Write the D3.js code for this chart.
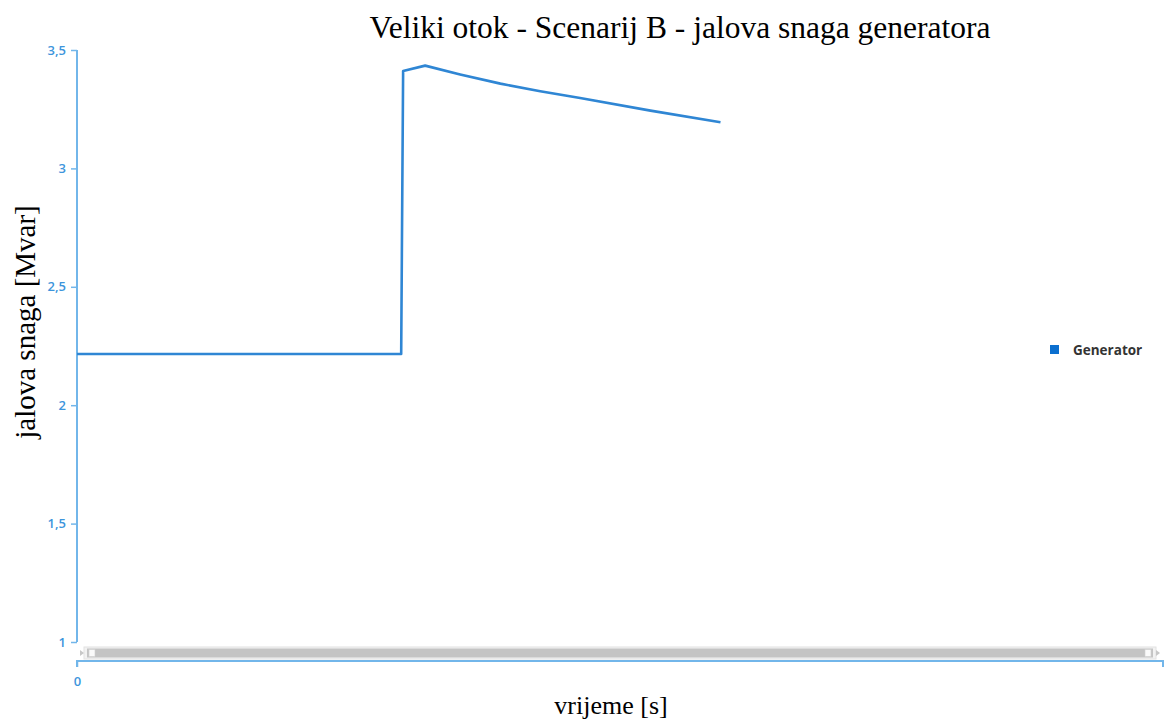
<!DOCTYPE html>
<html>
<head>
<meta charset="utf-8">
<script src="https://cdn.jsdelivr.net/npm/d3@7"></script>
<style>
  html, body { margin: 0; padding: 0; background: #fff; }
  svg { display: block; }
</style>
</head>
<body>
<svg id="chart" width="1164" height="720"></svg>
<script>
// Generator reactive power over time (Scenario B)
const timeSec = [0, 10, 10.06, 10.74, 11.82, 13.06, 14.29, 15.52, 17.69, 19.85];
const reactiveMvar = [2.216, 2.216, 3.411, 3.434, 3.397, 3.358, 3.326, 3.297, 3.244, 3.195];
const yTicks = [1, 1.5, 2, 2.5, 3, 3.5];
const xTicks = [0];
const seriesNames = ["Generator"];

const svg = d3.select("#chart");
const axisColor = "#72b6ea";
const tickTextColor = "#3d95dc";
const lineColor = "#2f86d4";

const x = d3.scaleLinear().domain([0, 33.5]).range([77, 1163]);
const y = d3.scaleLinear().domain([1, 3.5]).range([642, 50]);
const fmt = v => d3.format("~g")(v).replace(".", ",");

// Title
svg.append("text")
  .attr("x", 680).attr("y", 38)
  .attr("text-anchor", "middle")
  .style("font-family", "'Liberation Serif', 'Times New Roman', serif")
  .style("font-size", "31.5px")
  .attr("fill", "#000")
  .text("Veliki otok - Scenarij B - jalova snaga generatora");

// Y axis
const yAxis = d3.axisLeft(y).tickValues(yTicks).tickFormat(fmt).tickSize(6).tickPadding(5);
const gy = svg.append("g").attr("transform", "translate(77,0)").call(yAxis);
gy.select(".domain").attr("stroke", axisColor).attr("stroke-width", 2).attr("d", "M0,50V642");
gy.selectAll(".tick line").attr("stroke", axisColor).attr("stroke-width", 1.5);
gy.selectAll(".tick text")
  .attr("fill", tickTextColor)
  .style("font-family", "'Open Sans', 'Noto Sans', sans-serif")
  .style("font-size", "13px")
  .style("font-weight", "600");

svg.append("text")
  .attr("transform", "translate(35,322) rotate(-90)")
  .attr("text-anchor", "middle")
  .style("font-family", "'Liberation Serif', 'Times New Roman', serif")
  .style("font-size", "29px")
  .attr("fill", "#000")
  .text("jalova snaga [Mvar]");

// Scrollbar under the plot
const sb = svg.append("g");
sb.append("rect").attr("x", 84).attr("y", 647).attr("width", 1072).attr("height", 12)
  .attr("fill", "#f2f2f2").attr("stroke", "#e2e2e2");
sb.append("rect").attr("x", 87).attr("y", 648.5).attr("width", 1066).attr("height", 9)
  .attr("fill", "#c4c4c4");
sb.append("rect").attr("x", 89).attr("y", 649.5).attr("width", 6).attr("height", 7)
  .attr("fill", "#fafafa").attr("stroke", "#d0d0d0").attr("stroke-width", 0.6);
sb.append("rect").attr("x", 1145).attr("y", 649.5).attr("width", 6).attr("height", 7)
  .attr("fill", "#fafafa").attr("stroke", "#d0d0d0").attr("stroke-width", 0.6);
sb.append("path").attr("d", "M84,653 L80,650 L80,656 Z").attr("fill", "#c8c8c8");
sb.append("path").attr("d", "M1156,650 L1160,653 L1156,656 Z").attr("fill", "#c8c8c8");

// X axis
const xAxis = d3.axisBottom(x).tickValues(xTicks).tickFormat(d => d).tickSize(6).tickPadding(10);
const gx = svg.append("g").attr("transform", "translate(0,661)").call(xAxis);
gx.select(".domain").attr("stroke", axisColor).attr("stroke-width", 2).attr("d", "M77,6V0H1163V6");
gx.selectAll(".tick line").attr("stroke", axisColor).attr("stroke-width", 1.5);
gx.selectAll(".tick text")
  .attr("fill", tickTextColor)
  .style("font-family", "'Open Sans', 'Noto Sans', sans-serif")
  .style("font-size", "13px")
  .style("font-weight", "600");

svg.append("text")
  .attr("x", 611).attr("y", 714)
  .attr("text-anchor", "middle")
  .style("font-family", "'Liberation Serif', 'Times New Roman', serif")
  .style("font-size", "26px")
  .attr("fill", "#000")
  .text("vrijeme [s]");

// Series line
const line = d3.line()
  .x((d, i) => x(timeSec[i]))
  .y(d => y(d));
svg.append("path")
  .datum(reactiveMvar)
  .attr("fill", "none")
  .attr("stroke", lineColor)
  .attr("stroke-width", 2.6)
  .attr("stroke-linejoin", "round")
  .attr("d", line);

// Legend
const lg = svg.append("g").attr("transform", "translate(1050,345)");
seriesNames.forEach((name, i) => {
  lg.append("rect").attr("x", 0).attr("y", i * 20).attr("width", 9).attr("height", 9).attr("fill", "#0b6fcf");
  lg.append("text").attr("x", 23).attr("y", i * 20 + 9.5)
    .style("font-family", "'Open Sans', 'Noto Sans', sans-serif")
    .style("font-size", "13.5px").style("font-weight", "bold")
    .attr("fill", "#333")
    .text(name);
});
</script>
</body>
</html>
